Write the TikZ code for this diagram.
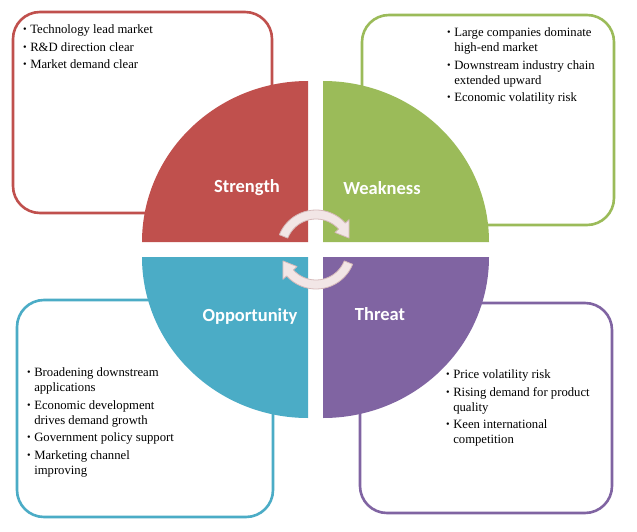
\documentclass[tikz,border=0pt]{standalone}
\usepackage{fontspec}
\setmainfont{Liberation Serif}
\newfontfamily\labelfont{Carlito}
\usepackage{tikz}
\usetikzlibrary{arrows.meta, calc, positioning}

\definecolor{swotred}{RGB}{192,80,77}
\definecolor{swotgreen}{RGB}{155,187,89}
\definecolor{swotblue}{RGB}{75,172,198}
\definecolor{swotpurple}{RGB}{128,100,162}
\definecolor{cyclefill}{RGB}{242,230,230}
\definecolor{cycleline}{RGB}{214,186,186}

\newcommand{\sbul}{\raisebox{0.8pt}{\scalebox{0.8}{\textbullet}}}

\tikzset{
  swotbox/.style={line width=2.6pt, rounded corners=27pt},
  swotlabel/.style={text=white, font=\labelfont\bfseries\fontsize{18.5}{20}\selectfont},
  swotlist/.style={anchor=north west, inner sep=0pt, font=\fontsize{12.7}{15}\selectfont, align=left},
  cyclearrow/.style={fill=cyclefill, draw=cycleline, line width=0.8pt, line join=round}
}

\begin{document}
\begin{tikzpicture}[x=1pt,y=-1pt]
       %\draw[step=20,gray!30] (0,0) grid (637,532);
       \fill[white] (0,0) rectangle (637,532);
       \useasboundingbox (0,0) rectangle (637,532);
       % boxes behind the circle
       \draw[swotbox,draw=swotred] (13,12) rectangle (272,213);
       \draw[swotbox,draw=swotgreen] (362,15) rectangle (614,225);
       \draw[swotbox,draw=swotblue] (17,300) rectangle (273,517);
       \draw[swotbox,draw=swotpurple] (360,303) rectangle (612,513);
       % four quarters
       \fill[swotred] (308,242) -- (142,242) arc[start angle=180, end angle=270, x radius=166, y radius=161] -- cycle;
       \fill[swotgreen] (323,242) -- (323,81) arc[start angle=270, end angle=360, x radius=166, y radius=161] -- cycle;
       \fill[swotblue] (308,257) -- (308,418) arc[start angle=90, end angle=180, x radius=166, y radius=161] -- cycle;
       \fill[swotpurple] (323,257) -- (489,257) arc[start angle=0, end angle=90, x radius=166, y radius=161] -- cycle;
       % cycle arrows
       \coordinate (c) at (316,249.5);
       \draw[cyclearrow] ($(c)+(202:39.5)$) arc[start angle=202, end angle=318, radius=39.5] -- ($(c)+(318:44.5)$) -- ($(c)+(341:35)$) -- ($(c)+(318:25.5)$) -- ($(c)+(318:30.5)$) arc[start angle=318, end angle=202, radius=30.5] -- cycle;
       \draw[cyclearrow] ($(c)+(22:39.5)$) arc[start angle=22, end angle=138, radius=39.5] -- ($(c)+(138:44.5)$) -- ($(c)+(161:35)$) -- ($(c)+(138:25.5)$) -- ($(c)+(138:30.5)$) arc[start angle=138, end angle=22, radius=30.5] -- cycle;
       % labels
       \node[swotlabel] (strength) at (247,188) {Strength};
       \node[swotlabel] (weakness) at (382,188) {Weakness};
       \node[swotlabel] (opportunity) at (250,316) {Opportunity};
       \node[swotlabel] (threat) at (380,314) {Threat};
       % lists
       \node[swotlist] (slist) at (23,23) {\begin{tabular}{@{}l@{\hspace{3.5pt}}l@{}}
          \sbul & Technology lead market\\[2.5pt]
          \sbul & R\&D direction clear\\[2.5pt]
          \sbul & Market demand clear
       \end{tabular}};
       \node[swotlist] (wlist) at (447,26) {\begin{tabular}{@{}l@{\hspace{3.5pt}}l@{}}
          \sbul & Large companies dominate\\
                & high-end market\\[2.5pt]
          \sbul & Downstream industry chain\\
                & extended upward\\[2.5pt]
          \sbul & Economic volatility risk
       \end{tabular}};
       \node[swotlist] (olist) at (27,366) {\begin{tabular}{@{}l@{\hspace{3.5pt}}l@{}}
          \sbul & Broadening downstream\\
                & applications\\[2.5pt]
          \sbul & Economic development\\
                & drives demand growth\\[2.5pt]
          \sbul & Government policy support\\[2.5pt]
          \sbul & Marketing channel\\
                & improving
       \end{tabular}};
       \node[swotlist] (tlist) at (446,368) {\begin{tabular}{@{}l@{\hspace{3.5pt}}l@{}}
          \sbul & Price volatility risk\\[2.5pt]
          \sbul & Rising demand for product\\
                & quality\\[2.5pt]
          \sbul & Keen international\\
                & competition
       \end{tabular}};
\end{tikzpicture}
\end{document}
